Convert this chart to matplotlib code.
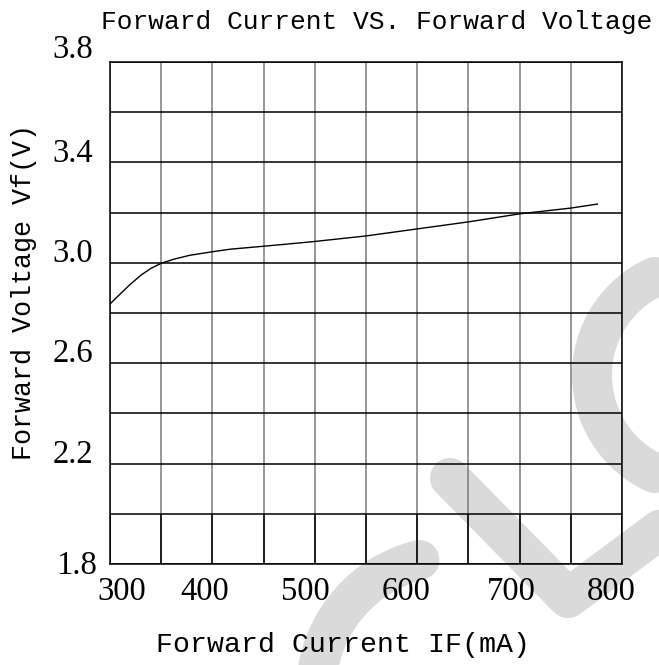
import numpy as np
import matplotlib
matplotlib.use("Agg")
import matplotlib.pyplot as plt
from matplotlib.lines import Line2D
from matplotlib.patches import Arc
from matplotlib.transforms import ScaledTranslation

# Forward current (mA) vs forward voltage (V)
current = [300, 310, 320, 330, 340, 350, 362, 378, 400, 417, 450, 482,
           500, 550, 600, 650, 700, 750, 776]
voltage = [2.836, 2.876, 2.915, 2.950, 2.978, 2.998, 3.014, 3.030, 3.044,
           3.054, 3.066, 3.078, 3.085, 3.107, 3.135, 3.163, 3.195, 3.218, 3.234]

x_labels = [300, 400, 500, 600, 700, 800]
y_labels = [1.8, 2.2, 2.6, 3.0, 3.4, 3.8]

W, H = 659, 665
fig = plt.figure(figsize=(W / 100, H / 100), dpi=100)
fig.patch.set_facecolor("white")


def fpos(px, py):
    # image pixel (from top-left) -> figure fraction
    return px / W, 1 - py / H


# light grey watermark logo behind the chart
wm = "#dadada"
lw_wm = 40 * 72 / 100
xs, ys = zip(*[fpos(450, 478), fpos(568, 598), fpos(700, 500)])
fig.add_artist(Line2D(xs, ys, transform=fig.transFigure, color=wm, lw=lw_wm,
                      solid_capstyle="round", solid_joinstyle="round", zorder=0))
cx, cy = fpos(700, 375)
fig.add_artist(Arc((cx, cy), 2 * 108 / W, 2 * 108 / H, theta1=115, theta2=245,
                   transform=fig.transFigure, color=wm, lw=lw_wm,
                   capstyle="round", zorder=0))
cx, cy = fpos(452, 692)
fig.add_artist(Arc((cx, cy), 2 * 136 / W, 2 * 136 / H, theta1=104, theta2=200,
                   transform=fig.transFigure, color=wm, lw=lw_wm,
                   capstyle="round", zorder=0))

ax = fig.add_axes([110 / W, 101 / H, 512 / W, 502 / H])
ax.patch.set_alpha(0)
ax.set_xlim(300, 800)
ax.set_ylim(1.8, 3.8)

grid_x = np.arange(300, 801, 50)
grid_y = np.arange(1.8, 3.81, 0.2)
ax.set_xticks(grid_x)
ax.set_yticks(grid_y)
ax.tick_params(length=0, labelbottom=False, labelleft=False)
ax.grid(axis="x", color="#7a7a7a", lw=1.1)
ax.grid(axis="y", color="black", lw=1.1)
ax.set_axisbelow(True)
# bottom row has black vertical lines
ax.vlines(grid_x, grid_y[0], grid_y[1], color="black", lw=1.1, zorder=1)
for s in ax.spines.values():
    s.set_color("black")
    s.set_linewidth(1.1)

ax.plot(current, voltage, color="black", lw=1.0, zorder=3)

serif = "Liberation Serif"
mono = "Liberation Mono"

# x tick labels
x_dx = [12, -8, -9, -11, -8, -11]
for v, dx in zip(x_labels, x_dx):
    tr = ax.get_xaxis_transform() + ScaledTranslation(dx / 100, -13 / 100, fig.dpi_scale_trans)
    ax.text(v, 0, str(v), transform=tr, ha="center", va="top",
            fontsize=23.5, family=serif)

# y tick labels
for v in y_labels:
    dx, dy = -17, 9
    if v == 3.8:
        dy = 12
    if v == 1.8:
        dx, dy = -13, -2
    tr = ax.get_yaxis_transform() + ScaledTranslation(dx / 100, dy / 100, fig.dpi_scale_trans)
    ax.text(0, v, f"{v:.1f}", transform=tr, ha="right", va="center",
            fontsize=23.5, family=serif)

fig.text(*fpos(377, 22), "Forward Current VS. Forward Voltage", ha="center",
         va="center", fontsize=18.9, family=mono)
fig.text(*fpos(343, 645), "Forward Current IF(mA)", ha="center",
         va="center", fontsize=20.3, family=mono)
fig.text(*fpos(24, 292), "Forward Voltage Vf(V)", ha="center",
         va="center", rotation=90, fontsize=19.3, family=mono)

fig.savefig("out.png", dpi=100)
